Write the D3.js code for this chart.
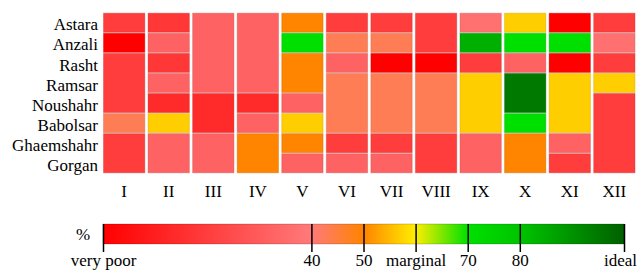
<html>
<head>
<script src="https://d3js.org/d3.v7.min.js"></script>
<style>
  body { margin: 0; background: #fff; }
  text { font-family: "Liberation Serif", "Times New Roman", serif; fill: #000; }
</style>
</head>
<body>
<div id="chart"></div>
<script>
// stations (rows) and months (columns)
const stations = ["Astara", "Anzali", "Rasht", "Ramsar", "Noushahr", "Babolsar", "Ghaemshahr", "Gorgan"];
const months = ["I", "II", "III", "IV", "V", "VI", "VII", "VIII", "IX", "X", "XI", "XII"];

// comfort score (%), one row per station
const astara     = [20, 18, 32, 32, 50, 20, 20, 20, 37, 57,  0, 20];
const anzali     = [ 0, 32, 32, 32, 70, 43, 43, 20, 84, 70, 70, 37];
const rasht      = [20, 18, 32, 32, 50, 32,  0,  0, 20, 32,  0, 20];
const ramsar     = [20, 32, 32, 32, 50, 43, 43, 43, 57, 95, 57, 57];
const noushahr   = [20, 14, 14, 14, 32, 43, 43, 43, 57, 95, 57, 20];
const babolsar   = [43, 57, 14, 32, 57, 43, 43, 43, 57, 70, 57, 20];
const ghaemshahr = [20, 32, 32, 50, 50, 20, 20, 20, 32, 50, 32, 20];
const gorgan     = [20, 32, 32, 50, 32, 32, 32, 20, 32, 50, 20, 20];
const values = [astara, anzali, rasht, ramsar, noushahr, babolsar, ghaemshahr, gorgan];

// legend
const legendTicks = [0, 40, 50, 60, 70, 80, 100];
const legendLabels = ["very poor", "40", "50", "marginal", "70", "80", "ideal"];
const colorStops = [0, 40, 50, 60, 70, 80, 100];
const colorRange = ["#ff0000", "#ff7a7a", "#ff8400", "#ffee00", "#00e000", "#00c400", "#006000"];

const w = 638, h = 271;

const svg = d3.select("#chart").append("svg")
  .attr("width", w).attr("height", h);

const x = d3.scaleBand().domain(months).range([103, 635.5]).paddingInner(0.05).paddingOuter(0);
const y = d3.scaleBand().domain(stations).range([12.7, 173.3]).padding(0);
const color = d3.scaleLinear().domain(colorStops).range(colorRange);

// merge runs of equal values in each column
const blocks = [];
months.forEach((m, j) => {
  let start = 0;
  for (let i = 1; i <= stations.length; i++) {
    if (i === stations.length || values[i][j] !== values[start][j]) {
      blocks.push({ month: m, first: stations[start], n: i - start, v: values[start][j] });
      start = i;
    }
  }
});

svg.append("g")
  .selectAll("rect")
  .data(blocks)
  .enter()
  .append("rect")
  .attr("x", d => x(d.month) + 0.5)
  .attr("y", d => y(d.first) + 0.5)
  .attr("width", x.bandwidth() - 1)
  .attr("height", d => y.step() * d.n - 1)
  .attr("fill", d => color(d.v))
  .attr("stroke", d => d3.color(color(d.v)).darker(0.8))
  .attr("stroke-opacity", 0.35)
  .attr("stroke-width", 1);

// row labels
const yAxis = svg.append("g")
  .attr("transform", "translate(103,0)")
  .call(d3.axisLeft(y).tickSize(0).tickPadding(5));
yAxis.select(".domain").remove();
yAxis.selectAll("text")
  .attr("dy", "0.45em")
  .style("font-size", "17px")
  .style("font-family", "Liberation Serif, serif");

// month labels
const xAxis = svg.append("g")
  .attr("transform", "translate(0,173.3)")
  .call(d3.axisBottom(x).tickSize(0).tickPadding(12));
xAxis.select(".domain").remove();
xAxis.selectAll("text")
  .style("font-size", "17px")
  .style("font-family", "Liberation Serif, serif");

// colour legend
const lx = d3.scaleLinear().domain([0, 100]).range([103, 624]);
const grad = svg.append("defs").append("linearGradient")
  .attr("id", "legendGrad")
  .attr("x1", "0%").attr("x2", "100%");
grad.selectAll("stop")
  .data(colorStops)
  .enter()
  .append("stop")
  .attr("offset", d => d + "%")
  .attr("stop-color", d => color(d));

svg.append("rect")
  .attr("x", lx(0))
  .attr("y", 224)
  .attr("width", lx(100) - lx(0))
  .attr("height", 20)
  .attr("fill", "url(#legendGrad)")
  .attr("stroke", "rgba(0,0,0,0.18)")
  .attr("stroke-width", 1);

const legendAxis = svg.append("g")
  .attr("transform", "translate(0,224)")
  .call(d3.axisBottom(lx)
    .tickValues(legendTicks)
    .tickFormat((d, i) => legendLabels[i])
    .tickSizeInner(28)
    .tickSizeOuter(0)
    .tickPadding(2));
legendAxis.select(".domain").remove();
legendAxis.selectAll("line")
  .attr("stroke", "#000")
  .attr("stroke-width", 1.5);
legendAxis.selectAll("text")
  .style("font-size", "17px")
  .style("font-family", "Liberation Serif, serif");
// keep the last label inside the window
legendAxis.selectAll("text")
  .filter(d => d === 100)
  .attr("dx", "-4");

svg.append("text")
  .attr("x", 83)
  .attr("y", 240)
  .attr("text-anchor", "middle")
  .style("font-size", "17px")
  .text("%");
</script>
</body>
</html>
